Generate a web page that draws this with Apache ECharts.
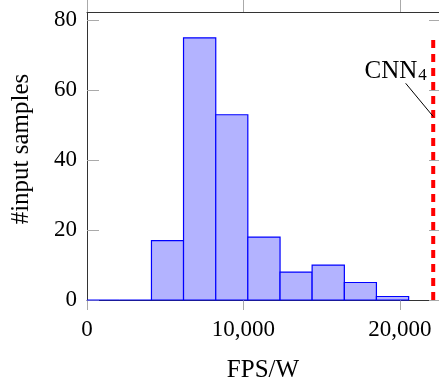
<!DOCTYPE html>
<html>
<head>
<meta charset="utf-8">
<script src="https://cdn.jsdelivr.net/npm/echarts@6/dist/echarts.min.js"></script>
<style>
  html, body { margin: 0; padding: 0; background: #fff; }
  #chart { width: 439px; height: 383px; }
</style>
</head>
<body>
<div id="chart"></div>
<script>
// histogram bins (FPS/W edges) and counts per bin
var binEdges = [0, 2060, 4120, 6170, 8230, 10280, 12340, 14390, 16450, 18500, 20560];
var binCounts = [0, 0, 17, 75, 53, 18, 8, 10, 5, 1];

// reference line for CNN4
var cnnValue = 22130;
var cnnLine = [[cnnValue, 0], [cnnValue, 75]];
var cnnPin = [[20370, 62], [cnnValue, 52.5]];

var xTicks = [0, 10000, 20000];
var yTicks = [0, 20, 40, 60, 80];

var FONT = '"Liberation Serif", "DejaVu Serif", serif';
var TICK_GRAY = '#aaaaaa';
var AXIS_DARK = '#333333';

function histData() {
    var d = [];
    for (var i = 0; i < binCounts.length; i++) {
        d.push([binEdges[i], binEdges[i + 1], binCounts[i]]);
    }
    return d;
}

function fmtThousands(v) {
    return String(v).replace(/\B(?=(\d{3})+(?!\d))/g, ',');
}

function init() {
    var chart = echarts.init(document.getElementById('chart'));
    var option = {
        animation: false,
        grid: { left: 87, top: 12, right: 0, bottom: 83, outerBoundsMode: 'none', containLabel: false },
        xAxis: [
            {
                type: 'value', position: 'bottom', min: 0, max: 22500,
                axisLine: { show: true, onZero: false, lineStyle: { color: AXIS_DARK, width: 1 } },
                axisTick: { show: true, inside: false, length: 10, customValues: xTicks,
                    lineStyle: { color: TICK_GRAY, width: 1 } },
                axisLabel: { customValues: xTicks, formatter: fmtThousands, margin: 18,
                    fontFamily: FONT, fontSize: 23, color: '#000' },
                splitLine: { show: false },
                name: 'FPS/W', nameLocation: 'middle', nameGap: 58,
                nameTextStyle: { fontFamily: FONT, fontSize: 25, color: '#000' }
            },
            {
                type: 'value', position: 'top', min: 0, max: 22500,
                axisLine: { show: true, onZero: false, lineStyle: { color: AXIS_DARK, width: 1 } },
                axisTick: { show: true, inside: false, length: 12, customValues: xTicks,
                    lineStyle: { color: TICK_GRAY, width: 1 } },
                axisLabel: { show: false },
                splitLine: { show: false }
            }
        ],
        yAxis: [
            {
                type: 'value', position: 'left', min: 0, max: 82.4,
                axisLine: { show: true, onZero: false, lineStyle: { color: AXIS_DARK, width: 1 } },
                axisTick: { show: true, inside: true, length: 12, customValues: yTicks,
                    lineStyle: { color: TICK_GRAY, width: 1 } },
                axisLabel: { customValues: yTicks, margin: 10,
                    fontFamily: FONT, fontSize: 23, color: '#000' },
                splitLine: { show: false },
                name: '#input samples', nameLocation: 'middle', nameGap: 53,
                nameTextStyle: { fontFamily: FONT, fontSize: 25, color: '#000', padding: [0, 0, 0, 14] }
            },
            {
                type: 'value', position: 'right', min: 0, max: 82.4,
                axisLine: { show: true, onZero: false, lineStyle: { color: AXIS_DARK, width: 1 } },
                axisTick: { show: true, inside: true, length: 10, customValues: yTicks,
                    lineStyle: { color: TICK_GRAY, width: 1 } },
                axisLabel: { show: false },
                splitLine: { show: false }
            }
        ],
        graphic: [
            // left axis line continues above the frame
            { type: 'line', shape: { x1: 87.5, y1: 0, x2: 87.5, y2: 12 },
              style: { stroke: AXIS_DARK, lineWidth: 1 } }
        ],
        series: [
            {
                name: 'hist', type: 'custom', xAxisIndex: 0, yAxisIndex: 0,
                data: histData(),
                renderItem: function (params, api) {
                    var p0 = api.coord([api.value(0), api.value(2)]);
                    var p1 = api.coord([api.value(1), 0]);
                    return {
                        type: 'rect',
                        shape: { x: p0[0], y: p0[1], width: p1[0] - p0[0], height: p1[1] - p0[1] },
                        style: { fill: '#b3b3ff', stroke: '#0000ff', lineWidth: 1.2 }
                    };
                }
            },
            {
                name: 'CNN4', type: 'line', xAxisIndex: 0, yAxisIndex: 0,
                data: cnnLine, symbol: 'none',
                lineStyle: { color: '#ff0000', width: 4, type: [8, 6] },
                z: 3
            },
            {
                name: 'pin', type: 'line', xAxisIndex: 0, yAxisIndex: 0,
                data: cnnPin, symbol: 'none',
                lineStyle: { color: '#000', width: 1 },
                z: 4
            },
            {
                name: 'pinLabel', type: 'scatter', xAxisIndex: 0, yAxisIndex: 0,
                data: [cnnPin[0]], symbolSize: 0,
                itemStyle: { color: '#000' },
                label: {
                    show: true, position: 'top', distance: 0, offset: [-10, 1],
                    color: '#000', opacity: 1,
                    formatter: '{a|CNN}{b|4}',
                    rich: {
                        a: { fontFamily: FONT, fontSize: 25, lineHeight: 28, color: '#000', verticalAlign: 'bottom' },
                        b: { fontFamily: FONT, fontSize: 17, lineHeight: 17, color: '#000', verticalAlign: 'bottom',
                             padding: [0, 0, 0, 1] }
                    }
                },
                z: 5
            }
        ]
    };
    chart.setOption(option);
}

init();
</script>
</body>
</html>
